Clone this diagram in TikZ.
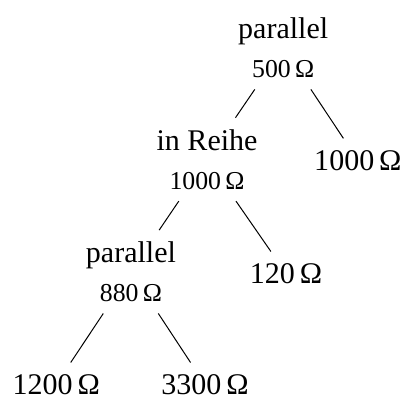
\documentclass[tikz,border=0pt]{standalone}
\usepackage{fontspec}
\setmainfont{Liberation Serif}
\newcommand{\klein}{\fontsize{10.3}{15.5}\selectfont}
\begin{document}
\begin{tikzpicture}[
		knoten/.style={align=center,inner sep=4.5pt,font=\fontsize{12}{15.5}\selectfont},
		blatt/.style={anchor=base,inner sep=4.5pt,font=\fontsize{12}{14}\selectfont},
		kante/.style={line width=0.4pt}
	]
	\useasboundingbox (0,0) rectangle (5.72,-5.595);
	\node[knoten] (P1) at (3.98,-0.67) {parallel\\{\klein 500\,Ω}};
	\node[knoten] (R1) at (2.91,-2.24) {in Reihe\\{\klein 1000\,Ω}};
	\node[knoten] (P2) at (1.84,-3.82) {parallel\\{\klein 880\,Ω}};
	\node[blatt] (W1) at (5.03,-2.39) {1000\,Ω};
	\node[blatt] (W2) at (4.02,-3.98) {120\,Ω};
	\node[blatt] (W3) at (0.79,-5.54) {1200\,Ω};
	\node[blatt] (W4) at (2.88,-5.54) {3300\,Ω};
	\draw[kante] (P1) -- (R1);
	\draw[kante] (P1) -- (W1);
	\draw[kante] (R1) -- (P2);
	\draw[kante] (R1) -- (W2);
	\draw[kante] (P2) -- (W3);
	\draw[kante] (P2) -- (W4);
\end{tikzpicture}
\end{document}
